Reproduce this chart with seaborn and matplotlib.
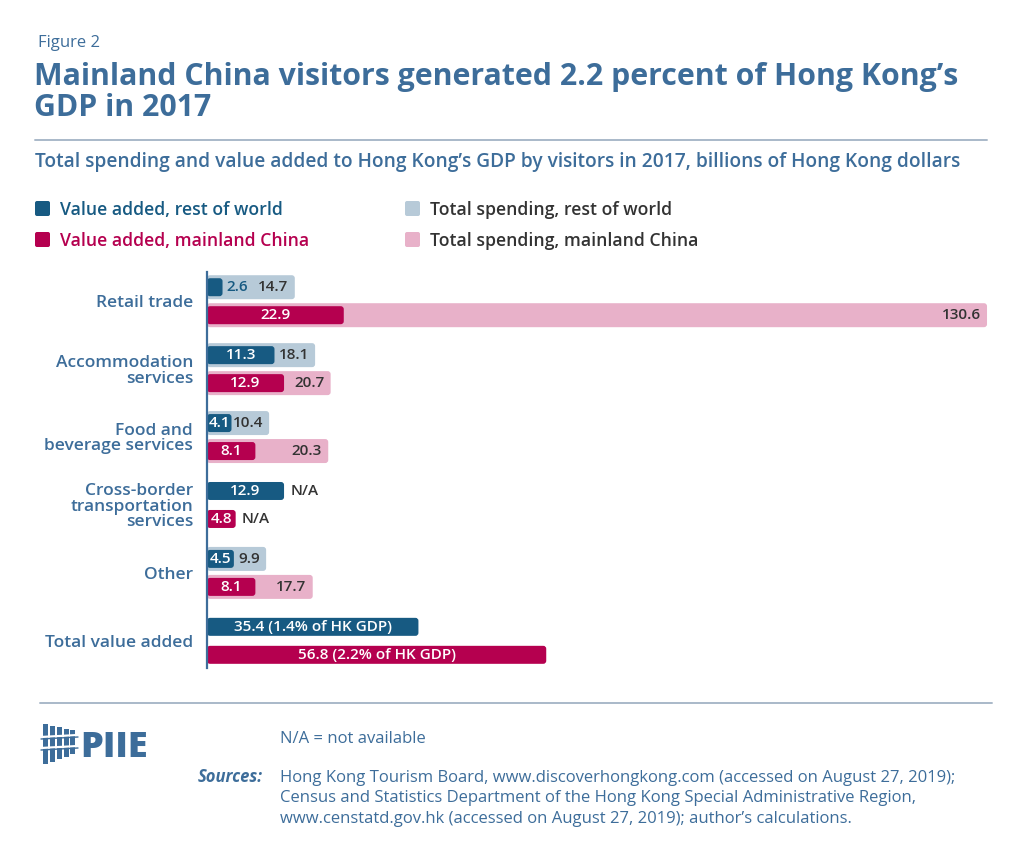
import numpy as np
import pandas as pd
import matplotlib
matplotlib.use("Agg")
import matplotlib.pyplot as plt
import seaborn as sns
from matplotlib.patches import FancyBboxPatch, Rectangle

# data (billions of HK dollars)
categories = ["Retail trade", "Accommodation\nservices", "Food and\nbeverage services",
              "Cross-border\ntransportation\nservices", "Other", "Total value added"]
origins = ["rest of world", "mainland China"]
value_rest = [2.6, 11.3, 4.1, 12.9, 4.5, 35.4]
value_mainland = [22.9, 12.9, 8.1, 4.8, 8.1, 56.8]
spend_rest = [14.7, 18.1, 10.4, np.nan, 9.9, np.nan]
spend_mainland = [130.6, 20.7, 20.3, np.nan, 17.7, np.nan]
gdp_share = ["1.4%", "2.2%"]

BLUE = "#3d6d9a"
DARK = "#333333"
value_colors = ["#175a82", "#b5004f"]
spend_colors = ["#b7cad8", "#e8b1c9"]

W, H = 1025, 857

sns.set_theme(style="white")
plt.rcParams["font.family"] = ["Open Sans", "DejaVu Sans"]


def long_frame(rest, mainland):
    df = pd.DataFrame({
        "category": categories * 2,
        "value": list(rest) + list(mainland),
        "origin": [origins[0]] * len(categories) + [origins[1]] * len(categories),
    })
    return df.dropna()


spend = long_frame(spend_rest, spend_mainland)
added = long_frame(value_rest, value_mainland)

fig = plt.figure(figsize=(W / 100, H / 100), dpi=100)
fig.patch.set_facecolor("white")
ax = fig.add_axes([207 / W, 1 - 668 / H, 783 / W, 396 / H])

sns.barplot(data=spend, y="category", x="value", hue="origin", order=categories,
            hue_order=origins, palette=spend_colors, width=0.824, gap=0.143,
            saturation=1, errorbar=None, legend=False, ax=ax)
n_spend = len(ax.containers)
sns.barplot(data=added, y="category", x="value", hue="origin", order=categories,
            hue_order=origins, palette=value_colors, width=0.824, gap=0.357,
            saturation=1, errorbar=None, legend=False, ax=ax)

xmax, ylo, yhi = 131.1, -0.43, 5.4
ax.set_xlim(0, xmax)
ax.set_ylim(yhi, ylo)
aspect = ((yhi - ylo) / 396) / (xmax / 783)

spend_conts = ax.containers[:n_spend]
value_conts = ax.containers[n_spend:]


def round_bars(patches, zorder):
    for p in patches:
        x, y, w, h = p.get_x(), p.get_y(), p.get_width(), p.get_height()
        fc = p.get_facecolor()
        p.set_visible(False)
        ax.add_patch(FancyBboxPatch((x, y), w, h, boxstyle="round,pad=0,rounding_size=0.5",
                                    mutation_aspect=aspect, fc=fc, ec="none", zorder=zorder))


lab = dict(fontsize=11, fontweight="semibold", va="center")

# spending labels, right aligned inside the bar end
for cont in spend_conts:
    for p in cont.patches:
        yc = p.get_y() + p.get_height() / 2
        ax.annotate(f"{p.get_width():.1f}", (p.get_width(), yc), xytext=(-4.5, 0),
                    textcoords="offset points", ha="right", color=DARK, zorder=5, **lab)
    round_bars(cont.patches, 2)

spend_lists = [spend_rest, spend_mainland]
for i, cont in enumerate(value_conts):
    for p in cont.patches:
        w = p.get_width()
        yc = p.get_y() + p.get_height() / 2
        k = int(round(yc))
        if k == len(categories) - 1:
            ax.text(w / 2, yc, f"{w:.1f} ({gdp_share[i]} of HK GDP)", ha="center",
                    color="white", zorder=5, **lab)
        elif w < 3:
            ax.annotate(f"{w:.1f}", (w, yc), xytext=(3, 0), textcoords="offset points",
                        ha="left", color=value_colors[i], zorder=5, **lab)
        else:
            ax.text(w / 2, yc, f"{w:.1f}", ha="center", color="white", zorder=5, **lab)
        if np.isnan(spend_lists[i][k]) and k != len(categories) - 1:
            ax.annotate("N/A", (w, yc), xytext=(4.5, 0), textcoords="offset points",
                        ha="left", color=DARK, zorder=5, **lab)
    round_bars(cont.patches, 3)

for s in ["top", "right", "bottom"]:
    ax.spines[s].set_visible(False)
ax.spines["left"].set_color(BLUE)
ax.spines["left"].set_linewidth(1.6)
ax.spines["left"].set_zorder(4)
ax.set_xticks([])
ax.set_xlabel("")
ax.set_ylabel("")
ax.tick_params(axis="y", length=0, pad=10)
for t in ax.get_yticklabels():
    t.set_fontsize(12.5)
    t.set_fontweight("semibold")
    t.set_color(BLUE)
    t.set_linespacing(0.95)
    t.set_horizontalalignment("right")

# overlay in pixel coordinates for titles, legend and footer
ov = fig.add_axes([0, 0, 1, 1], zorder=-1)
ov.set_xlim(0, W)
ov.set_ylim(H, 0)
ov.axis("off")

ov.text(38, 47, "Figure 2", fontsize=12, color=BLUE, va="baseline")
ov.text(34, 85, "Mainland China visitors generated 2.2 percent of Hong Kong\u2019s",
        fontsize=21.8, fontweight="bold", color=BLUE, va="baseline")
ov.text(34, 116, "GDP in 2017", fontsize=21.8, fontweight="bold", color=BLUE, va="baseline")
ov.plot([35, 987], [140, 140], color="#a9b9c9", lw=1.4)
ov.text(35, 167, "Total spending and value added to Hong Kong\u2019s GDP by visitors in 2017, "
        "billions of Hong Kong dollars", fontsize=13.8, fontweight="semibold", color=BLUE,
        va="baseline")

legend_items = [
    (35, 201, value_colors[0], "Value added, rest of world", value_colors[0]),
    (35, 232, value_colors[1], "Value added, mainland China", value_colors[1]),
    (405, 201, spend_colors[0], "Total spending, rest of world", DARK),
    (405, 232, spend_colors[1], "Total spending, mainland China", DARK),
]
for x, y, fc, txt, tc in legend_items:
    ov.add_patch(FancyBboxPatch((x, y), 15, 15, boxstyle="round,pad=0,rounding_size=2",
                                fc=fc, ec="none"))
    ov.text(x + 25, y + 13.5, txt, fontsize=12.7, fontweight="semibold", color=tc,
            va="baseline")

ov.plot([40, 992], [703, 703], color="#a9b9c9", lw=1.4)

# PIIE logo
for i, bx in enumerate([43, 50, 57, 64, 70]):
    top = 724 + i * 1.5
    ov.add_patch(Rectangle((bx, top), 5, 40 - i * 4, fc=BLUE, ec="none"))
for hy in [737, 748]:
    ov.plot([41, 78], [hy, hy - 2], color="white", lw=1.6)
    ov.plot([41, 78], [hy + 2, hy], color=BLUE, lw=1.0)
ov.text(80, 757, "PIIE", fontsize=26, fontweight="heavy", color=BLUE, va="baseline")

foot = dict(fontsize=12, color=BLUE, va="baseline")
ov.text(280, 743, "N/A = not available", **foot)
ov.text(263, 782, "Sources:", fontsize=12, color=BLUE, va="baseline", ha="right",
        fontweight="bold", fontstyle="italic")
src = ["Hong Kong Tourism Board, www.discoverhongkong.com (accessed on August 27, 2019);",
       "Census and Statistics Department of the Hong Kong Special Administrative Region,",
       "www.censtatd.gov.hk (accessed on August 27, 2019); author\u2019s calculations."]
for j, line in enumerate(src):
    ov.text(280, 782 + j * 20.5, line, **foot)

fig.savefig("out.png", dpi=100, facecolor="white")
